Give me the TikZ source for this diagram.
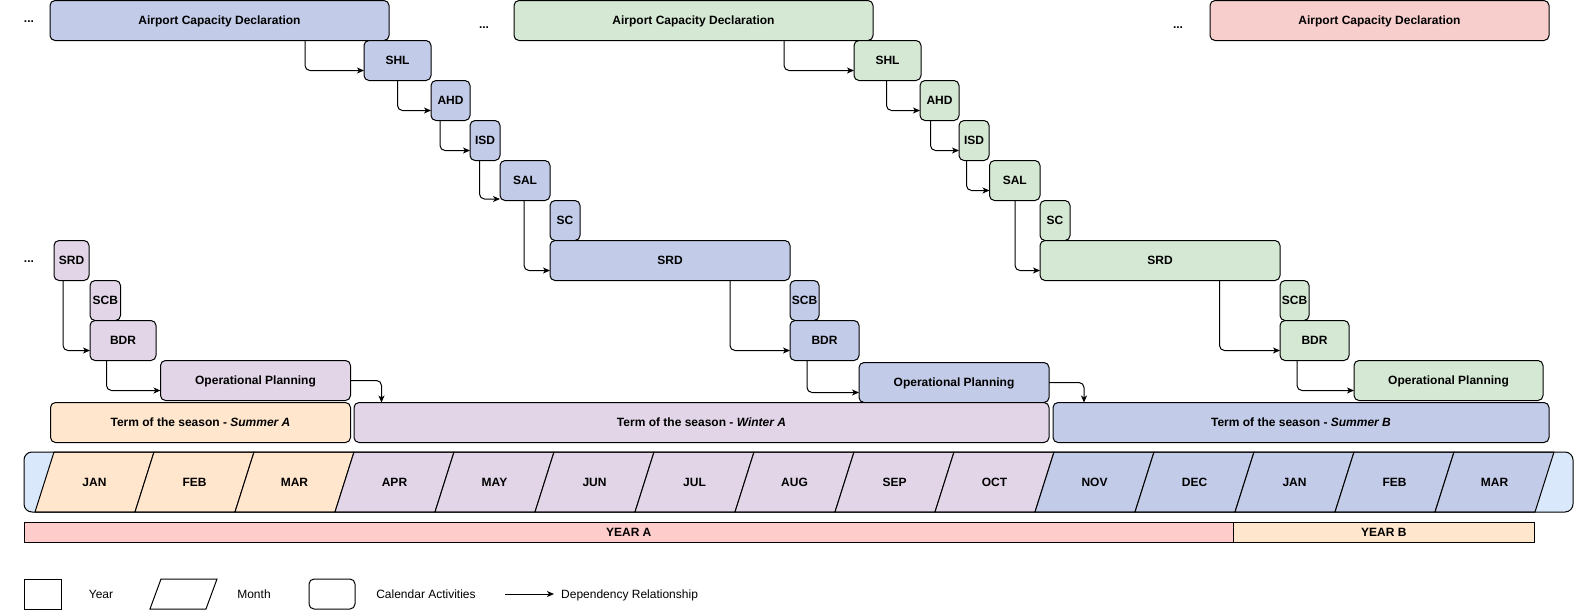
\documentclass[tikz,border=0pt]{standalone}
\usepackage{fontspec}
\setmainfont{Liberation Sans}
\usetikzlibrary{arrows.meta}
\definecolor{cblue}{RGB}{194,203,232}
\definecolor{cpurple}{RGB}{225,213,231}
\definecolor{cgreen}{RGB}{213,232,212}
\definecolor{cred}{RGB}{248,206,204}
\definecolor{cpeach}{RGB}{255,230,204}
\definecolor{clight}{RGB}{218,232,252}
\definecolor{cyear}{RGB}{255,204,204}
\newcommand\actbox[7]{\node[act, fill=#6, minimum width=#4pt-#2pt, minimum height=#5pt-#3pt] (#1) at (#2,#3) {#7};}
\newcommand\depline[4]{\draw[dep] ([xshift=#2pt]#1.south west) |- ([yshift=#4pt]#3.west);}
\begin{document}
\begin{tikzpicture}[x=1pt,y=-1pt,
  act/.style={draw, line width=1pt, rounded corners=5pt, inner sep=0pt, outer sep=0pt,
    text height=8.6pt, text depth=0pt,
    font=\fontsize{12}{14}\selectfont\bfseries, anchor=north west},
  dep/.style={draw, line width=1pt, rounded corners=5pt, -{Stealth[length=7pt,width=6pt,inset=2pt]}},
  lbl/.style={inner sep=0pt, text height=8.6pt, text depth=0pt, font=\fontsize{12}{14}\selectfont},
  blbl/.style={inner sep=0pt, font=\fontsize{12}{14}\selectfont\bfseries}]
\useasboundingbox (0,0) rectangle (1575,611);

% dots
\node[blbl] (dots1) at (29,22) {...};
\node[blbl] (dots2) at (484,28) {...};
\node[blbl] (dots3) at (1178,28) {...};
\node[blbl] (dots4) at (29,262) {...};

% blue chain
\actbox{ACDa}{50}{0.5}{389}{40.5}{cblue}{Airport Capacity Declaration}
\actbox{SHLa}{364}{40.5}{431}{80.5}{cblue}{SHL}
\actbox{AHDa}{431}{80.5}{470}{120.5}{cblue}{AHD}
\actbox{ISDa}{470}{120.5}{500}{160.5}{cblue}{ISD}
\actbox{SALa}{500}{160.5}{550}{200.5}{cblue}{SAL}
\actbox{SCa}{550}{200.5}{580}{240.5}{cblue}{SC}
\actbox{SRDb}{550}{240.5}{790}{280.5}{cblue}{SRD}
\actbox{SCBb}{790}{280.5}{819}{320.5}{cblue}{SCB}
\actbox{BDRb}{790}{320.5}{859}{360.5}{cblue}{BDR}
\actbox{OPb}{859}{362.5}{1049}{402.5}{cblue}{Operational Planning}

% purple chain
\actbox{SRDa}{54}{240.5}{89}{280.5}{cpurple}{SRD}
\actbox{SCBa}{90}{280.5}{120.5}{320.5}{cpurple}{SCB}
\actbox{BDRa}{90}{320.5}{156}{360.5}{cpurple}{BDR}
\actbox{OPa}{160.5}{360.5}{350.5}{400.5}{cpurple}{Operational Planning}

% green chain
\actbox{ACDb}{514}{0.5}{873}{40.5}{cgreen}{Airport Capacity Declaration}
\actbox{SHLb}{854}{40.5}{921}{80.5}{cgreen}{SHL}
\actbox{AHDb}{920}{80.5}{959}{120.5}{cgreen}{AHD}
\actbox{ISDb}{959}{120.5}{989}{160.5}{cgreen}{ISD}
\actbox{SALb}{989.5}{160.5}{1040}{200.5}{cgreen}{SAL}
\actbox{SCc}{1040}{200.5}{1070}{240.5}{cgreen}{SC}
\actbox{SRDc}{1040}{240.5}{1280}{280.5}{cgreen}{SRD}
\actbox{SCBc}{1280}{280.5}{1309}{320.5}{cgreen}{SCB}
\actbox{BDRc}{1280}{320.5}{1349}{360.5}{cgreen}{BDR}
\actbox{OPc}{1354}{360.5}{1543}{400.5}{cgreen}{Operational Planning}

% red
\actbox{ACDc}{1210}{0.5}{1549}{40.5}{cred}{Airport Capacity Declaration}

% terms
\actbox{TSA}{50.5}{402.5}{350.5}{442.5}{cpeach}{Term of the season - \textit{Summer A}}
\actbox{TWA}{354}{402.5}{1049}{442.5}{cpurple}{Term of the season - \textit{Winter A}}
\actbox{TSB}{1053}{402.5}{1549}{442.5}{cblue}{Term of the season - \textit{Summer B}}

% connectors
\depline{ACDa}{255}{SHLa}{-10}
\depline{SHLa}{33.5}{AHDa}{-10}
\depline{AHDa}{9}{ISDa}{-10}
\depline{ISDa}{9.5}{SALa}{-18.5}
\depline{SALa}{24}{SRDb}{-10}
\depline{SRDb}{180}{BDRb}{-10}
\depline{BDRb}{17}{OPb}{-10}
\depline{SRDa}{9}{BDRa}{-10}
\depline{BDRa}{16.5}{OPa}{-10}
\depline{ACDb}{270}{SHLb}{-10}
\depline{SHLb}{32.5}{AHDb}{-10}
\depline{AHDb}{10.5}{ISDb}{-10}
\depline{ISDb}{7.5}{SALb}{-10}
\depline{SALb}{25.5}{SRDc}{-10}
\depline{SRDc}{179.5}{BDRc}{-10}
\depline{BDRc}{17}{OPc}{-10}
\draw[dep] (OPa.east) -| ([xshift=27.5pt]TWA.north west);
\draw[dep] (OPb.east) -| ([xshift=31pt]TSB.north west);

% month bar
\fill[clight, rounded corners=8pt] (24,452) rectangle (1573,512);
\foreach \m/\c [count=\k from 0] in {JAN/cpeach,FEB/cpeach,MAR/cpeach,APR/cpurple,MAY/cpurple,JUN/cpurple,JUL/cpurple,AUG/cpurple,SEP/cpurple,OCT/cpurple,NOV/cblue,DEC/cblue,JAN/cblue,FEB/cblue,MAR/cblue}{
  \pgfmathsetmacro\xa{54+100*\k}
  \pgfmathsetmacro\xb{54+100*(\k+1)}
  \pgfmathsetmacro\xc{35+100*\k}
  \pgfmathsetmacro\xd{35+100*(\k+1)}
  \pgfmathsetmacro\xm{44.5+100*(\k+0.5)}
  \filldraw[fill=\c, line width=1pt, line join=round] (\xa,452) -- (\xb,452) -- (\xd,512) -- (\xc,512) -- cycle;
  \node[blbl, text height=8.6pt, text depth=0pt] (month\k) at (\xm,482) {\m};
}
\draw[line width=1pt, rounded corners=8pt] (24,452) rectangle (1573,512);

% years
\node[draw, line width=1pt, fill=cyear, inner sep=0pt, outer sep=0pt, anchor=north west,
  minimum width=1209.5pt, minimum height=20pt, text height=8.6pt, text depth=0pt,
  font=\fontsize{12}{14}\selectfont\bfseries] (yearA) at (24,522) {YEAR A};
\node[draw, line width=1pt, fill=cpeach, inner sep=0pt, outer sep=0pt, anchor=north west,
  minimum width=300.5pt, minimum height=20pt, text height=8.6pt, text depth=0pt,
  font=\fontsize{12}{14}\selectfont\bfseries] (yearB) at (1233.5,522) {YEAR B};

% legend
\node[draw, line width=1pt, inner sep=0pt, outer sep=0pt, anchor=north west,
  minimum width=37pt, minimum height=30pt] (lgyear) at (24,579) {};
\node[lbl] (lgyeart) at (101,594) {Year};
\draw[line width=1pt] (161,579) -- (217,579) -- (206,609) -- (150,609) -- cycle;
\node[lbl] (lgmontht) at (254,594) {Month};
\node[draw, line width=1pt, rounded corners=5pt, inner sep=0pt, outer sep=0pt, anchor=north west,
  minimum width=46pt, minimum height=30pt] (lgcal) at (309,579) {};
\node[lbl] (lgcalt) at (426,594) {Calendar Activities};
\coordinate (lga) at (505,594);
\coordinate (lgb) at (554,594);
\draw[dep] (lga) -- (lgb);
\node[lbl, anchor=west] (lgdept) at (561,594) {Dependency Relationship};
\end{tikzpicture}
\end{document}
